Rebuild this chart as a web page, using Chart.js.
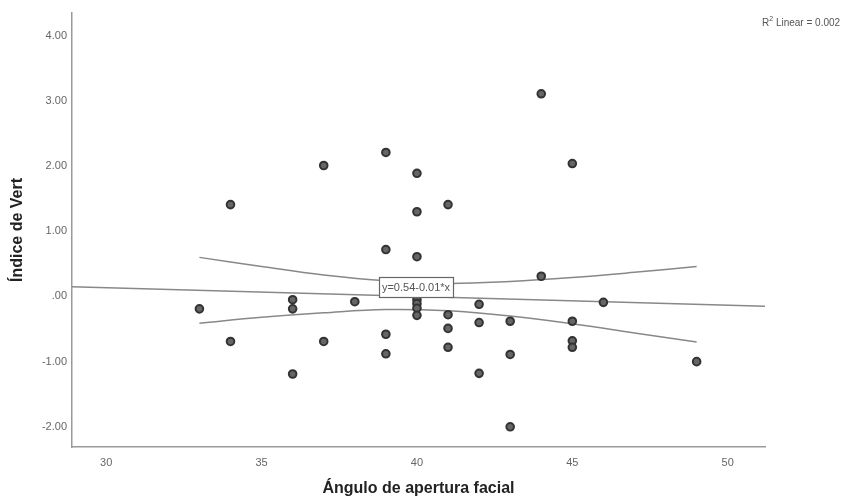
<!DOCTYPE html>
<html>
<head>
<meta charset="utf-8">
<script src="https://cdn.jsdelivr.net/npm/chart.js@4.4.1/dist/chart.umd.min.js"></script>
<style>
    html, body { margin: 0; padding: 0; background: #fff; }
    #chartBox { width: 848px; height: 500px; position: relative; }
</style>
</head>
<body>
<div id="chartBox"><canvas id="scatterChart"></canvas></div>
<script>
// Ángulo de apertura facial (x) vs Índice de Vert (y)
var angleValues = [33, 34, 34, 36, 36, 36, 37, 37, 38, 39, 39, 39, 39,
    40, 40, 40, 40, 40, 40, 40, 41, 41, 41, 41, 42, 42, 42, 43, 43, 43,
    44, 44, 45, 45, 45, 45, 46, 49];
var vertValues = [-0.19, 1.41, -0.69, -0.05, -0.19, -1.19, 2.01, -0.69, -0.08, 2.21, 0.72, -0.58, -0.88,
    1.89, 1.30, 0.61, -0.05, -0.11, -0.18, -0.29, 1.41, -0.28, -0.49, -0.78, -0.12, -0.40, -1.18, -0.38, -0.89, -2.00,
    3.11, 0.31, 2.04, -0.38, -0.68, -0.78, -0.09, -1.00];

// fit line and 95% mean CI
var fitX = [28.9, 51.2];
var fitY = [0.15, -0.15];
var ciX = [33, 35, 37, 39, 41, 43, 45, 47, 49];
var ciUpper = [0.60, 0.46, 0.33, 0.24, 0.20, 0.23, 0.29, 0.37, 0.46];
var ciLower = [-0.41, -0.32, -0.25, -0.20, -0.22, -0.30, -0.42, -0.56, -0.70];

var xTicks = [30, 35, 40, 45, 50];
var yTicks = [-2, -1, 0, 1, 2, 3, 4];

var equationText = "y=0.54-0.01*x";
var equationAt = { x: 39.97, y: 0.14 };
var rSquaredText = " Linear = 0.002";

function toPoints(xs, ys) {
    var pts = [];
    for (var i = 0; i < xs.length; i++) {
        pts.push({ x: xs[i], y: ys[i] });
    }
    return pts;
}

var annotationPlugin = {
    id: 'spssLabels',
    afterDatasetsDraw: function (chart) {
        var ctx = chart.ctx;
        var xs = chart.scales.x, ys = chart.scales.y;
        ctx.save();
        // equation box on the fit line
        ctx.font = "11px 'Liberation Sans', Arial, sans-serif";
        var w = ctx.measureText(equationText).width + 6;
        var h = 20;
        var cx = xs.getPixelForValue(equationAt.x);
        var cy = ys.getPixelForValue(equationAt.y);
        ctx.fillStyle = "#fff";
        ctx.fillRect(cx - w / 2, cy - h / 2, w, h);
        ctx.strokeStyle = "#666";
        ctx.lineWidth = 1.2;
        ctx.strokeRect(Math.round(cx - w / 2) + 0.5, Math.round(cy - h / 2) + 0.5, Math.round(w), h);
        ctx.fillStyle = "#555";
        ctx.textAlign = "center";
        ctx.textBaseline = "middle";
        ctx.fillText(equationText, cx, cy + 1);

        // R2 note, top right
        ctx.textAlign = "left";
        ctx.textBaseline = "alphabetic";
        ctx.fillStyle = "#555";
        ctx.font = "10px 'Liberation Sans', Arial, sans-serif";
        var rx = 762, ry = 26;
        ctx.fillText("R", rx, ry);
        var rw = ctx.measureText("R").width;
        ctx.font = "7px 'Liberation Sans', Arial, sans-serif";
        ctx.fillText("2", rx + rw, ry - 5);
        var sw = ctx.measureText("2").width;
        ctx.font = "10px 'Liberation Sans', Arial, sans-serif";
        ctx.fillText(rSquaredText, rx + rw + sw, ry);
        ctx.restore();
    }
};

function initScatterChart() {
    var ctx = document.getElementById("scatterChart").getContext("2d");
    var lineStyle = {
        showLine: true,
        borderColor: "#888",
        borderWidth: 1.5,
        pointRadius: 0,
        pointHoverRadius: 0,
        fill: false
    };
    new Chart(ctx, {
        type: 'scatter',
        data: {
            datasets: [
                {
                    label: "Índice de Vert",
                    data: toPoints(angleValues, vertValues),
                    pointRadius: 3.8,
                    pointBorderWidth: 2,
                    pointBorderColor: "#333",
                    pointBackgroundColor: "#666",
                    order: 0
                },
                Object.assign({ label: "fit", data: toPoints(fitX, fitY), tension: 0, order: 1 }, lineStyle),
                Object.assign({ label: "upper", data: toPoints(ciX, ciUpper), tension: 0.4, order: 1 }, lineStyle),
                Object.assign({ label: "lower", data: toPoints(ciX, ciLower), tension: 0.4, order: 1 }, lineStyle)
            ]
        },
        options: {
            responsive: true,
            maintainAspectRatio: false,
            animation: false,
            events: [],
            layout: { padding: { left: 0, top: 13, right: 83, bottom: 0 } },
            plugins: {
                legend: { display: false },
                tooltip: { enabled: false }
            },
            scales: {
                x: {
                    type: 'linear',
                    min: 28.9,
                    max: 51.2,
                    grid: { display: false, drawTicks: false },
                    border: { display: true, color: "#9a9a9a", width: 1.5 },
                    afterBuildTicks: function (scale) {
                        scale.ticks = xTicks.map(function (v) { return { value: v }; });
                    },
                    afterFit: function (scale) { scale.height = 53; },
                    ticks: {
                        padding: 9,
                        color: "#666",
                        font: { family: "'Liberation Sans', Arial, sans-serif", size: 11 },
                        maxRotation: 0
                    },
                    title: {
                        display: true,
                        text: "Ángulo de apertura facial",
                        color: "#222",
                        padding: { top: 0, bottom: 2 },
                        font: { family: "'Liberation Sans', Arial, sans-serif", size: 16, weight: 'bold' }
                    }
                },
                y: {
                    type: 'linear',
                    min: -2.31,
                    max: 4.35,
                    grid: { display: false, drawTicks: false },
                    border: { display: true, color: "#9a9a9a", width: 1.5 },
                    afterBuildTicks: function (scale) {
                        scale.ticks = yTicks.map(function (v) { return { value: v }; });
                    },
                    afterFit: function (scale) { scale.width = 72; },
                    ticks: {
                        padding: 5,
                        color: "#666",
                        font: { family: "'Liberation Sans', Arial, sans-serif", size: 11 },
                        callback: function (v) { return v === 0 ? ".00" : v.toFixed(2); }
                    },
                    title: {
                        display: true,
                        text: "Índice de Vert",
                        color: "#222",
                        padding: { top: 8, bottom: 0 },
                        font: { family: "'Liberation Sans', Arial, sans-serif", size: 16, weight: 'bold' }
                    }
                }
            }
        },
        plugins: [annotationPlugin]
    });
}

initScatterChart();
</script>
</body>
</html>
